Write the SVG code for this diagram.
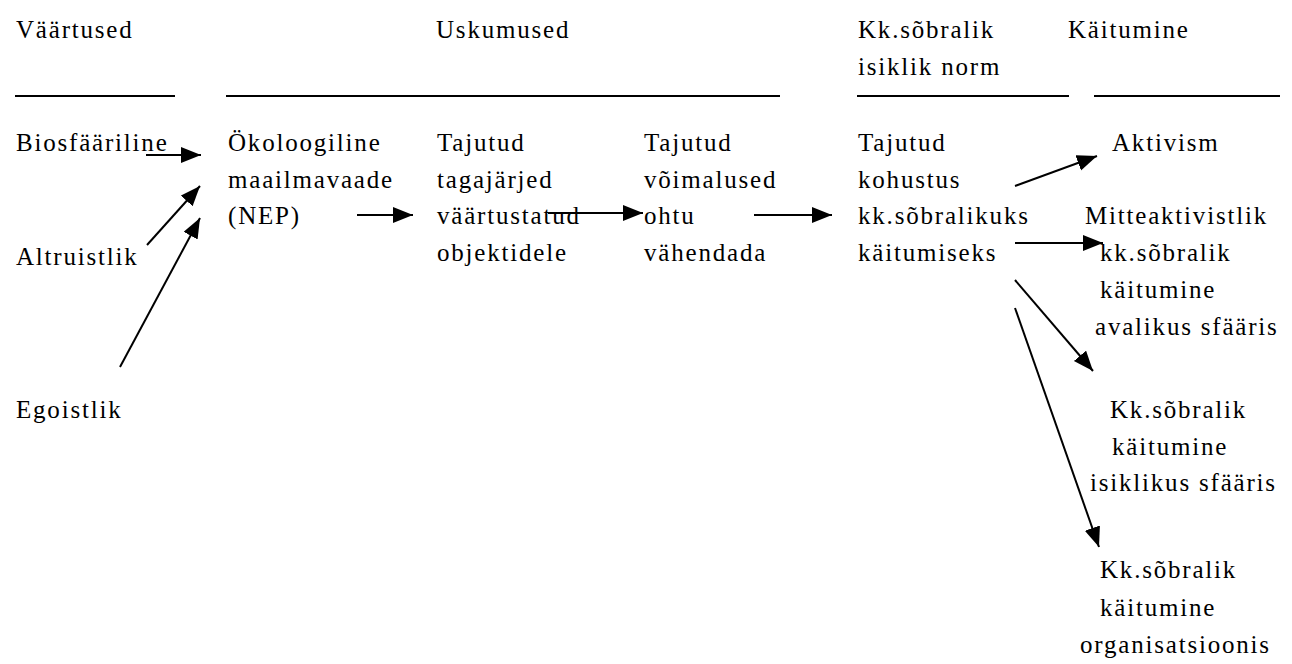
<svg xmlns="http://www.w3.org/2000/svg" width="1292" height="664" viewBox="0 0 1292 664">
<style>
text{font-family:"Liberation Serif","Times New Roman",serif;font-size:25px;letter-spacing:1.8px;fill:#000}
.rule{stroke:#000;stroke-width:2}
.conn{stroke:#000;stroke-width:2;fill:none;marker-end:url(#ah)}
</style>
<defs>
<marker id="ah" markerUnits="userSpaceOnUse" markerWidth="22" markerHeight="18" refX="20" refY="8" orient="auto">
<path d="M0,0 L20,8 L0,16 z" fill="#000"/>
</marker>
</defs>
<rect width="1292" height="664" fill="#fff"/>
<g id="headers">
<text x="16" y="38">Väärtused</text>
<text x="436" y="38">Uskumused</text>
<text x="858" y="38">Kk.sõbralik</text>
<text x="858" y="75">isiklik norm</text>
<text x="1068" y="38">Käitumine</text>
<line class="rule" x1="15" y1="96" x2="175" y2="96"/>
<line class="rule" x1="226" y1="96" x2="780" y2="96"/>
<line class="rule" x1="857" y1="96" x2="1069" y2="96"/>
<line class="rule" x1="1094" y1="96" x2="1280" y2="96"/>
</g>
<g id="biosfaariline"><text x="16" y="151">Biosfääriline</text></g>
<g id="altruistlik"><text x="16" y="265">Altruistlik</text></g>
<g id="egoistlik"><text x="16" y="418">Egoistlik</text></g>
<g id="nep">
<text x="228" y="151">Ökoloogiline</text>
<text x="228" y="188">maailmavaade</text>
<text x="228" y="224">(NEP)</text>
</g>
<g id="tagajarjed">
<text x="437" y="151">Tajutud</text>
<text x="437" y="188">tagajärjed</text>
<text x="437" y="224">väärtustatud</text>
<text x="437" y="261">objektidele</text>
</g>
<g id="voimalused">
<text x="644" y="151">Tajutud</text>
<text x="644" y="188">võimalused</text>
<text x="644" y="224">ohtu</text>
<text x="644" y="261">vähendada</text>
</g>
<g id="kohustus">
<text x="858" y="151">Tajutud</text>
<text x="858" y="188">kohustus</text>
<text x="858" y="224">kk.sõbralikuks</text>
<text x="858" y="261">käitumiseks</text>
</g>
<g id="aktivism"><text x="1112" y="151">Aktivism</text></g>
<g id="mitteaktivistlik">
<text x="1085" y="224">Mitteaktivistlik</text>
<text x="1100" y="261">kk.sõbralik</text>
<text x="1100" y="298">käitumine</text>
<text x="1095" y="335">avalikus sfääris</text>
</g>
<g id="isiklikus">
<text x="1110" y="418">Kk.sõbralik</text>
<text x="1112" y="455">käitumine</text>
<text x="1090" y="491">isiklikus sfääris</text>
</g>
<g id="organisatsioonis">
<text x="1100" y="578">Kk.sõbralik</text>
<text x="1100" y="616">käitumine</text>
<text x="1080" y="653">organisatsioonis</text>
</g>
<g id="connectors">
<line class="conn" x1="146" y1="155" x2="201" y2="155"/>
<line class="conn" x1="147" y1="245" x2="200" y2="186"/>
<line class="conn" x1="120" y1="367" x2="200" y2="218"/>
<line class="conn" x1="357" y1="215" x2="413" y2="215"/>
<line class="conn" x1="548" y1="213" x2="643" y2="213"/>
<line class="conn" x1="754" y1="215" x2="832" y2="215"/>
<line class="conn" x1="1015" y1="186" x2="1097" y2="156"/>
<line class="conn" x1="1015" y1="243" x2="1103" y2="243"/>
<line class="conn" x1="1015" y1="280" x2="1093" y2="371"/>
<line class="conn" x1="1015" y1="308" x2="1099" y2="547"/>
</g>
</svg>
